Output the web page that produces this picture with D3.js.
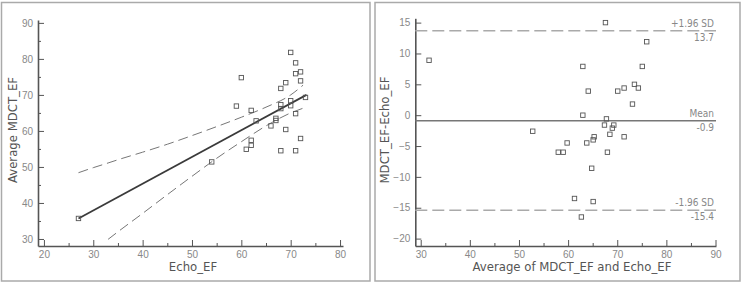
<!DOCTYPE html>
<html>
<head>
  <meta charset="utf-8">
  <title>Echo vs MDCT EF</title>
  <style>
    body { margin: 0; background: #fff; }
    svg { font-family: "Liberation Sans Narrow", "DejaVu Sans Condensed", sans-serif; }
    .axis path, .axis line { stroke: #555; }
    .axis text { fill: #888; font-size: 10px; }
  </style>
</head>
<body>
  <svg width="744" height="283"></svg>
  <script src="https://d3js.org/d3.v7.min.js"></script>
  <script>
    // 1. data
    // left panel: Echo_EF vs average MDCT_EF
    var echoEF = [27, 54, 59, 60, 61, 62, 62, 62, 63, 66, 67, 67, 68, 68, 68, 68, 69, 69,
                  70, 70, 70, 71, 71, 71, 71, 72, 72, 72, 73];
    var mdctEF = [35.7, 51.4, 66.9, 74.8, 54.9, 65.7, 57.4, 56.0, 62.8, 61.4, 63.5, 62.9, 71.8, 67.3, 66.2, 54.5, 73.4, 60.4,
                  81.8, 68.4, 67.0, 78.9, 75.9, 64.8, 54.5, 76.4, 73.9, 57.9, 69.3];
    // regression line ends
    var regX = [27, 73.2];
    var regY = [35.7, 70.0];
    // 95% confidence band (dashed curves)
    var bandX = [27, 30, 33, 35, 40, 45, 50, 55, 60, 65, 70, 72.5];
    var bandUpper = [48.4, 49.8, 51.1, 52.0, 54.1, 56.3, 58.7, 61.2, 63.8, 66.6, 70.0, 72.7];
    var bandLower = [null, null, 29.9, 32.0, 37.1, 42.3, 47.4, 52.4, 57.0, 61.4, 65.0, 66.3];

    // right panel: Bland-Altman
    var meanEF = [31.7, 52.8, 58.0, 59.0, 59.8, 61.3, 62.7, 63.0, 63.0, 63.8, 64.1, 64.8, 65.1, 65.1, 65.3,
                  67.4, 67.6, 67.8, 68.0, 68.5, 69.0, 69.3, 70.1, 71.4, 71.4, 73.1, 73.5, 74.3, 75.1, 76.0];
    var diffEF = [8.9, -2.6, -6.0, -6.0, -4.5, -13.5, -16.5, 7.9, 0, -4.5, 3.9, -8.6, -14.0, -4.0, -3.5,
                  -1.6, 15.0, -0.6, -6.0, -3.1, -2.1, -1.6, 3.9, 4.4, -3.5, 1.8, 5.0, 4.4, 7.9, 11.9];
    var refNames = ["+1.96 SD", "Mean", "-1.96 SD"];
    var refValues = [13.7, -0.9, -15.4];

    var svg = d3.select("svg");

    // panel frames
    svg.append("rect").attr("x", 1.5).attr("y", 2.5).attr("width", 368.5).attr("height", 278.5)
      .attr("fill", "none").attr("stroke", "#aaa").attr("stroke-width", 1.5);
    svg.append("rect").attr("x", 375).attr("y", 2.5).attr("width", 365).attr("height", 278.5)
      .attr("fill", "none").attr("stroke", "#aaa").attr("stroke-width", 1.5);

    function drawAxes(g, x, y, xMajor, xMinor, yMajor, yMinor) {
      g.append("g").attr("class", "axis")
        .attr("transform", "translate(0," + y.range()[0] + ")")
        .call(d3.axisBottom(x).tickValues(xMinor).tickSize(-3).tickFormat(""))
        .select(".domain").remove();
      g.append("g").attr("class", "axis")
        .attr("transform", "translate(" + x.range()[0] + ",0)")
        .call(d3.axisLeft(y).tickValues(yMinor).tickSize(-3).tickFormat(""))
        .select(".domain").remove();
      var xa = g.append("g").attr("class", "axis")
        .attr("transform", "translate(0," + y.range()[0] + ")")
        .call(d3.axisBottom(x).tickValues(xMajor).tickSizeInner(-6).tickSizeOuter(0).tickPadding(4));
      var ya = g.append("g").attr("class", "axis")
        .attr("transform", "translate(" + x.range()[0] + ",0)")
        .call(d3.axisLeft(y).tickValues(yMajor).tickSizeInner(-6).tickSizeOuter(0).tickPadding(4));
      xa.select(".domain").attr("stroke-width", 1.6);
      ya.select(".domain").attr("stroke-width", 1.6);
      xa.selectAll(".tick text").attr("dy", "0.8em");
      ya.selectAll(".tick text").attr("x", -5);
    }

    function squares(g, xs, ys, x, y) {
      g.selectAll("rect.pt").data(xs).enter().append("rect")
        .attr("class", "pt")
        .attr("x", function (d) { return x(d) - 2.2; })
        .attr("y", function (d, i) { return y(ys[i]) - 2.2; })
        .attr("width", 4.4).attr("height", 4.4)
        .attr("fill", "none").attr("stroke", "#555").attr("stroke-width", 0.9);
    }

    // 2. left panel
    var xL = d3.scaleLinear().domain([18.8, 80.6]).range([38, 343]);
    var yL = d3.scaleLinear().domain([28.05, 90.8]).range([246, 20]);
    var gL = svg.append("g");
    drawAxes(gL, xL, yL, d3.range(20, 81, 10), d3.range(25, 80, 10), d3.range(30, 91, 10), d3.range(35, 90, 10));

    var bandLine = d3.line()
      .defined(function (d) { return d[1] != null; })
      .x(function (d) { return xL(d[0]); })
      .y(function (d) { return yL(d[1]); })
      .curve(d3.curveMonotoneX);
    gL.append("path").datum(bandX.map(function (v, i) { return [v, bandUpper[i]]; }))
      .attr("d", bandLine).attr("fill", "none").attr("stroke", "#777")
      .attr("stroke-width", 1).attr("stroke-dasharray", "10,5");
    gL.append("path").datum(bandX.map(function (v, i) { return [v, bandLower[i]]; }))
      .attr("d", bandLine).attr("fill", "none").attr("stroke", "#777")
      .attr("stroke-width", 1).attr("stroke-dasharray", "10,5");
    gL.append("line")
      .attr("x1", xL(regX[0])).attr("y1", yL(regY[0]))
      .attr("x2", xL(regX[1])).attr("y2", yL(regY[1]))
      .attr("stroke", "#3a3a3a").attr("stroke-width", 1.8);
    squares(gL, echoEF, mdctEF, xL, yL);

    gL.append("text").attr("x", 193).attr("y", 271).attr("text-anchor", "middle")
      .attr("fill", "#555").attr("font-size", 13).text("Echo_EF");
    gL.append("text").attr("transform", "translate(17,130) rotate(-90)").attr("text-anchor", "middle")
      .attr("fill", "#555").attr("font-size", 13).text("Average MDCT_EF");

    // 3. right panel
    var xR = d3.scaleLinear().domain([28.9, 90.1]).range([415.3, 716]);
    var yR = d3.scaleLinear().domain([-21.2, 15.7]).range([246, 18.3]);
    var gR = svg.append("g");
    drawAxes(gR, xR, yR, d3.range(30, 91, 10), d3.range(35, 90, 10), d3.range(-20, 16, 5), []);

    refValues.forEach(function (v, i) {
      var yy = yR(v);
      gR.append("line")
        .attr("x1", xR.range()[0]).attr("x2", xR.range()[1])
        .attr("y1", yy).attr("y2", yy)
        .attr("stroke", i == 1 ? "#777" : "#aaa").attr("stroke-width", 1.5)
        .attr("stroke-dasharray", i == 1 ? null : "12,5");
      gR.append("text").attr("x", 714).attr("y", yy - 4).attr("text-anchor", "end")
        .attr("fill", "#888").attr("font-size", 10).text(refNames[i]);
      gR.append("text").attr("x", 714).attr("y", yy + 10).attr("text-anchor", "end")
        .attr("fill", "#888").attr("font-size", 10).text(refValues[i]);
    });
    squares(gR, meanEF, diffEF, xR, yR);

    gR.append("text").attr("x", 572).attr("y", 271).attr("text-anchor", "middle")
      .attr("fill", "#555").attr("font-size", 13).text("Average of MDCT_EF and Echo_EF");
    gR.append("text").attr("transform", "translate(389,130) rotate(-90)").attr("text-anchor", "middle")
      .attr("fill", "#555").attr("font-size", 13).text("MDCT_EF-Echo_EF");
  </script>
</body>
</html>
